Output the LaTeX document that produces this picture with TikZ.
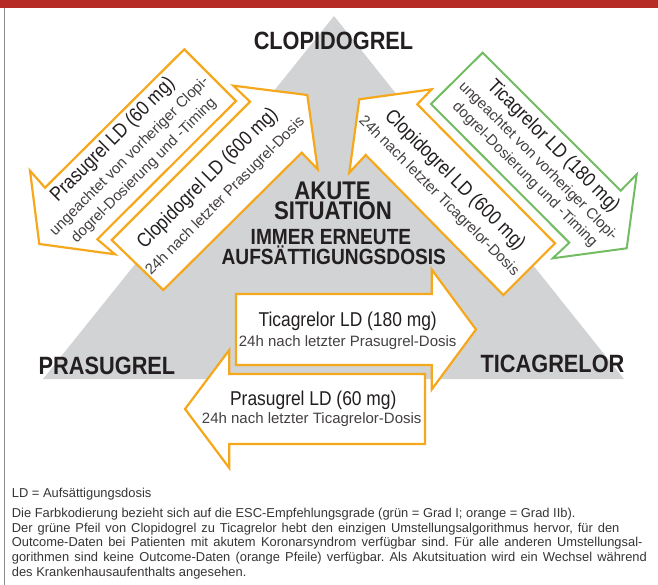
\documentclass[tikz,border=0pt]{standalone}
\usepackage{fontspec}
\setmainfont{Liberation Sans}
\newfontfamily\condfont[FakeStretch=0.87]{Liberation Sans}
\frenchspacing

\definecolor{bandred}{RGB}{183,43,39}
\definecolor{arroworange}{RGB}{246,168,28}
\definecolor{arrowgreen}{RGB}{114,189,98}
\definecolor{trigray}{RGB}{209,211,212}
\definecolor{rulegray}{RGB}{140,140,140}
\definecolor{ink}{RGB}{35,31,32}
\definecolor{lightink}{RGB}{68,64,65}
\definecolor{footink}{RGB}{55,52,53}

% fonts of the dose texts
\newcommand{\dosefont}{\condfont\fontsize{20}{20}\selectfont\color{ink}}
\newcommand{\subfont}{\fontsize{15}{15}\selectfont\color{lightink}}
% centred lines with a fixed baseline distance; the box baseline is the first line
\newcommand{\stacklines}[2]{\vtop{\baselineskip=#1\lineskiplimit=-\maxdimen\lineskip=0pt
  \halign{\hfil##\hfil\cr#2\crcr}}}

\tikzset{
  orangearrow/.style={draw=arroworange, fill=white, line width=2.2pt, line join=miter, miter limit=10},
  greenarrow/.style={draw=arrowgreen, fill=white, line width=2pt, line join=miter, miter limit=10},
  druglabel/.style={font=\condfont\bfseries\fontsize{25}{25}\selectfont, text=ink, inner sep=0pt, anchor=base},
  centerbig/.style={font=\condfont\bfseries\fontsize{25.5}{25.5}\selectfont, text=ink, inner sep=0pt, anchor=base},
  centersmall/.style={font=\condfont\bfseries\fontsize{22}{22}\selectfont, text=ink, inner sep=0pt, anchor=base},
  doseline/.style={font=\dosefont, text=ink, inner sep=0pt, anchor=base},
  noteline/.style={font=\subfont, text=lightink, inner sep=0pt, anchor=base},
  dosestack/.style={inner sep=0pt, anchor=base},
  footline/.style={font=\fontsize{12.9}{12.9}\selectfont, text=footink, inner sep=0pt, anchor=base west},
}

\begin{document}
\begin{tikzpicture}[x=1pt, y=-1pt]
\useasboundingbox (0,0) rectangle (658,585);

% header band and left rule
\fill[bandred] (0,0) rectangle (658,8.5);
\draw[rulegray, line width=1.2pt] (4.7,8.5) -- (4.7,585);

% grey triangle
\coordinate (apex) at (334,16);
\coordinate (baseL) at (43,379);
\coordinate (baseR) at (624,379);
\fill[trigray] (apex) -- (baseL) -- (baseR) -- cycle;

% Clopidogrel -> Prasugrel (orange, down-left)
\coordinate (a-t1) at (184.3,49.3);
\coordinate (a-t2) at (236,101);
\coordinate (a-s2) at (97.3,239.3);
\coordinate (a-b2) at (115,254.3);
\coordinate (a-tip) at (39.3,244);
\coordinate (a-b1) at (30,170.7);
\coordinate (a-s1) at (45,187.7);
\draw[orangearrow] (a-t1) -- (a-t2) -- (a-s2) -- (a-b2) -- (a-tip) -- (a-b1) -- (a-s1) -- cycle;

% Prasugrel -> Clopidogrel (orange, up-right)
\coordinate (b-t1) at (111.7,240);
\coordinate (b-s1) at (250,101.7);
\coordinate (b-b1) at (233.3,85.7);
\coordinate (b-tip) at (307.3,95);
\coordinate (b-b2) at (317.7,169.3);
\coordinate (b-s2) at (301.7,152.7);
\coordinate (b-t2) at (163.3,290);
\draw[orangearrow] (b-t1) -- (b-s1) -- (b-b1) -- (b-tip) -- (b-b2) -- (b-s2) -- (b-t2) -- cycle;

% Ticagrelor -> Clopidogrel (orange, up-left)
\coordinate (c-tip) at (359.3,99.3);
\coordinate (c-b1) at (431.7,89.3);
\coordinate (c-s1) at (417.3,104.3);
\coordinate (c-t1) at (555,243.3);
\coordinate (c-t2) at (503.3,295);
\coordinate (c-s2) at (365.7,155);
\coordinate (c-b2) at (349.3,172.7);
\draw[orangearrow] (c-tip) -- (c-b1) -- (c-s1) -- (c-t1) -- (c-t2) -- (c-s2) -- (c-b2) -- cycle;

% Clopidogrel -> Ticagrelor (green, down-right)
\coordinate (d-t1) at (482.7,52.7);
\coordinate (d-t2) at (431,104);
\coordinate (d-s2) at (569.3,242.7);
\coordinate (d-b2) at (552.7,258.3);
\coordinate (d-tip) at (626.7,248.3);
\coordinate (d-b1) at (636.7,174.3);
\coordinate (d-s1) at (620.7,190.7);
\draw[greenarrow] (d-t1) -- (d-t2) -- (d-s2) -- (d-b2) -- (d-tip) -- (d-b1) -- (d-s1) -- cycle;

% Prasugrel -> Ticagrelor (orange, right)
\coordinate (e-t1) at (236,294);
\coordinate (e-s1) at (431.7,294);
\coordinate (e-b1) at (431.7,269.5);
\coordinate (e-tip) at (476,329.5);
\coordinate (e-b2) at (431.7,389.5);
\coordinate (e-s2) at (431.7,365);
\coordinate (e-t2) at (236,365);
\draw[orangearrow] (e-t1) -- (e-s1) -- (e-b1) -- (e-tip) -- (e-b2) -- (e-s2) -- (e-t2) -- cycle;

% Ticagrelor -> Prasugrel (orange, left)
\coordinate (f-t1) at (425,374);
\coordinate (f-s1) at (229.3,374);
\coordinate (f-b1) at (229.3,350);
\coordinate (f-tip) at (185,409);
\coordinate (f-b2) at (229.3,468);
\coordinate (f-s2) at (229.3,444);
\coordinate (f-t2) at (425,444);
\draw[orangearrow] (f-t1) -- (f-s1) -- (f-b1) -- (f-tip) -- (f-b2) -- (f-s2) -- (f-t2) -- cycle;

% drug names at the corners
\node[druglabel] (clop) at (333.5,50) {CLOPIDOGREL};
\node[druglabel] (pras) at (107,374) {PRASUGREL};
\node[druglabel] (tica) at (552.5,372.7) {TICAGRELOR};

% centre message
\node[centerbig] (akute) at (332.5,200) {AKUTE};
\node[centerbig] (situation) at (333,220) {SITUATION};
\node[centersmall] (immer) at (331,245) {IMMER ERNEUTE};
\node[centersmall] (aufs) at (333.8,265) {AUFSÄTTIGUNGSDOSIS};

% texts of the diagonal arrows (each node's base is its first baseline)
\begin{scope}[shift={(128.7,155.6)}, rotate=45, transform shape]
  \node[dosestack] (a-text) at (0,-16.9) {\stacklines{20.5pt}{{\dosefont Prasugrel LD (60 mg)}\cr
    \noalign{\vskip1.5pt}{\subfont ungeachtet von vorheriger Clopi-}\cr
    {\subfont dogrel-Dosierung und -Timing}}};
\end{scope}

\begin{scope}[shift={(219.6,190.5)}, rotate=45, transform shape]
  \node[dosestack] (b-text) at (0,-11.4) {\stacklines{23.5pt}{{\dosefont Clopidogrel LD (600 mg)}\cr
    {\subfont 24h nach letzter Prasugrel-Dosis}}};
\end{scope}

\begin{scope}[shift={(443.4,191.6)}, rotate=-45, transform shape]
  \node[dosestack] (c-text) at (0,-10.7) {\stacklines{21.1pt}{{\dosefont Clopidogrel LD (600 mg)}\cr
    {\subfont 24h nach letzter Ticagrelor-Dosis}}};
\end{scope}

\begin{scope}[shift={(535,164.5)}, rotate=-45, transform shape]
  \node[dosestack] (d-text) at (0,-20.4) {\stacklines{19pt}{{\dosefont Ticagrelor LD (180 mg)}\cr
    \noalign{\vskip0.9pt}{\subfont ungeachtet von vorheriger Clopi-}\cr
    {\subfont dogrel-Dosierung und -Timing}}};
\end{scope}

% texts of the horizontal arrows
\node[doseline] (e-l1) at (347.7,326) {Ticagrelor LD (180 mg)};
\node[noteline] (e-l2) at (347.7,346.7) {24h nach letzter Prasugrel-Dosis};
\node[doseline] (f-l1) at (313.3,405) {Prasugrel LD (60 mg)};
\node[noteline] (f-l2) at (311.7,423.3) {24h nach letzter Ticagrelor-Dosis};

% footnotes
\node[footline] (fn1) at (11.7,497.3) {LD = Aufsättigungsdosis};
\node[footline] (fn2) at (11.7,517.3) {Die Farbkodierung bezieht sich auf die ESC-Empfehlungsgrade (grün = Grad I; orange = Grad IIb).};
\node[footline] (fn3) at (11.7,532.2) {\makebox[607.6pt][s]{Der grüne Pfeil von Clopidogrel zu Ticagrelor hebt den einzigen Umstellungsalgorithmus hervor, für den}};
\node[footline] (fn4) at (11.7,546.9) {\makebox[630.6pt][s]{Outcome-Daten bei Patienten mit akutem Koronarsyndrom verfügbar sind. Für alle anderen Umstellungsal-}};
\node[footline] (fn5) at (11.7,561.7) {\makebox[635pt][s]{gorithmen sind keine Outcome-Daten (orange Pfeile) verfügbar. Als Akutsituation wird ein Wechsel während}};
\node[footline] (fn6) at (11.7,576.7) {des Krankenhausaufenthalts angesehen.};
\end{tikzpicture}
\end{document}
